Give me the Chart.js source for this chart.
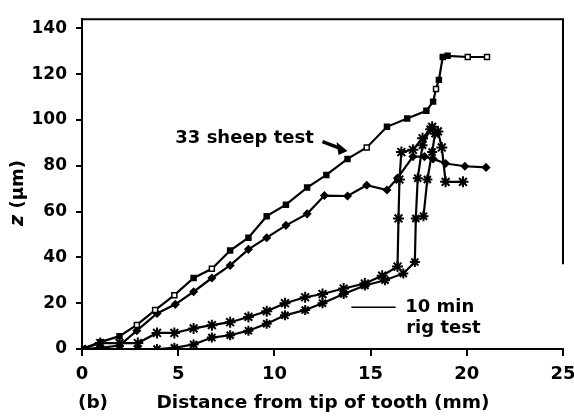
<!DOCTYPE html>
<html>
<head>
<meta charset="utf-8">
<script src="https://cdn.jsdelivr.net/npm/chart.js@4.4.1/dist/chart.umd.min.js"></script>
<style>
  html, body { margin: 0; padding: 0; background: #fff; }
  #wrap { width: 574px; height: 416px; }
</style>
</head>
<body>
<div id="wrap"><canvas id="myChart" width="574" height="416"></canvas></div>
<script>
'use strict'
// 33 sheep test, upper curve (squares)
var sheepAX = [0, 0.95, 1.95, 2.85, 3.8, 4.8, 5.8, 6.75, 7.7, 8.65, 9.6, 10.6, 11.7, 12.7, 13.8, 14.8, 15.85, 16.9, 17.9, 18.25, 18.4, 18.55, 18.75, 19.0, 20.05, 21.05];
var sheepAY = [0, 3, 5.6, 10.5, 17, 23.5, 31, 35, 43, 48.6, 58, 63, 70.5, 76, 83, 88, 97, 100.6, 104, 108, 113.5, 117.5, 127.5, 128, 127.5, 127.5];
// 33 sheep test, lower curve (diamonds)
var sheepBX = [0, 0.95, 1.95, 2.85, 3.9, 4.85, 5.8, 6.75, 7.7, 8.65, 9.6, 10.6, 11.7, 12.6, 13.8, 14.8, 15.85, 16.4, 17.2, 17.8, 18.25, 18.9, 19.9, 21.0];
var sheepBY = [0, 0.5, 1.5, 8, 15.5, 19.5, 25, 31, 36.5, 43.5, 48.6, 54, 59, 67, 66.8, 71.5, 69.4, 74.6, 84, 84, 83, 81, 79.8, 79.3];
// 10 min rig test, two runs (stars)
var rigCX = [0, 0.95, 1.95, 2.9, 3.9, 4.8, 5.8, 6.75, 7.7, 8.65, 9.6, 10.55, 11.6, 12.5, 13.6, 14.7, 15.6, 16.4, 16.45, 16.5, 16.6, 17.2, 17.7, 18.2, 18.5, 18.7, 18.9, 19.8];
var rigCY = [0, 2.6, 2.6, 2.6, 7, 7, 9, 10.4, 11.7, 14, 16.5, 20, 22.6, 24, 26.4, 28.6, 32, 36, 57, 74, 86, 87, 92, 97, 95, 88, 73, 73];
var rigDX = [0, 0.95, 1.95, 2.9, 3.9, 4.8, 5.8, 6.75, 7.7, 8.65, 9.6, 10.55, 11.6, 12.5, 13.6, 14.7, 15.75, 16.7, 17.3, 17.35, 17.45, 17.7, 18.1, 18.35, 18.2, 17.95, 17.75];
var rigDY = [0, 0, 0, 0, 0, 0.5, 2, 5, 6, 8, 11, 14.7, 17, 20, 24, 27.7, 30, 33, 38, 57, 74.6, 89, 96, 94, 86, 74, 58];
// ticks
var xTicks = [0, 5, 10, 15, 20, 25];
var yTicks = [0, 20, 40, 60, 80, 100, 120, 140];

var fontFam = "'DejaVu Sans', sans-serif";
var openA = [3, 4, 5, 7, 15, 20, 24, 25];

function pts(xs, ys) {
    var out = [];
    for (let i = 0; i < xs.length; i++) {
        out.push({ x: xs[i], y: ys[i] });
    }
    return out;
}

var annot = {
    id: 'annot',
    afterDraw: function(chart) {
        var ctx = chart.ctx;
        var a = chart.chartArea;
        var x = chart.scales.x;
        var y = chart.scales.y;
        ctx.save();
        ctx.strokeStyle = '#000';
        ctx.fillStyle = '#000';
        ctx.lineWidth = 2;
        // top frame and short right frame
        ctx.beginPath();
        ctx.moveTo(a.left, a.top);
        ctx.lineTo(a.right, a.top);
        ctx.lineTo(a.right, y.getPixelForValue(37));
        ctx.stroke();

        // 33 sheep test label + arrow
        ctx.font = 'bold 18px ' + fontFam;
        ctx.textBaseline = 'middle';
        ctx.textAlign = 'left';
        ctx.fillText('33 sheep test', x.getPixelForValue(4.85), y.getPixelForValue(92));
        var x1 = x.getPixelForValue(12.5), y1 = y.getPixelForValue(90.5);
        var x2 = x.getPixelForValue(13.8), y2 = y.getPixelForValue(86.5);
        ctx.lineWidth = 3.5;
        ctx.beginPath();
        ctx.moveTo(x1, y1);
        ctx.lineTo(x2 - 6, y2 - 2);
        ctx.stroke();
        ctx.beginPath();
        ctx.moveTo(x2, y2);
        ctx.lineTo(x2 - 11, y2 - 9);
        ctx.lineTo(x2 - 9, y2 + 4);
        ctx.closePath();
        ctx.fill();

        // 10 min rig test label
        ctx.lineWidth = 1.5;
        ctx.beginPath();
        ctx.moveTo(x.getPixelForValue(14.0), y.getPixelForValue(18.2));
        ctx.lineTo(x.getPixelForValue(16.3), y.getPixelForValue(18.2));
        ctx.stroke();
        ctx.font = 'bold 18px ' + fontFam;
        ctx.fillText('10 min', x.getPixelForValue(16.8), y.getPixelForValue(18.2));
        ctx.fillText('rig test', x.getPixelForValue(16.85), y.getPixelForValue(9.2));

        // axis titles
        ctx.font = 'bold 18.5px ' + fontFam;
        ctx.textAlign = 'center';
        ctx.fillText('Distance from tip of tooth (mm)', 323, 403);
        ctx.fillText('(b)', 93, 403);

        ctx.translate(18, 193);
        ctx.rotate(-Math.PI / 2);
        ctx.font = 'bold italic 19px ' + fontFam;
        var wz = ctx.measureText('z').width;
        ctx.font = 'bold 18px ' + fontFam;
        var wr = ctx.measureText(' (μm)').width;
        var start = -(wz + wr) / 2;
        ctx.textAlign = 'left';
        ctx.font = 'bold italic 19px ' + fontFam;
        ctx.fillText('z', start, 0);
        ctx.font = 'bold 18px ' + fontFam;
        ctx.fillText(' (μm)', start + wz, 0);
        ctx.restore();
    }
};

var ctx = document.getElementById('myChart').getContext('2d');

var chart = new Chart(ctx, {
    type: 'scatter',
    data: {
        datasets: [{
            label: '33 sheep test (upper)',
            data: pts(sheepAX, sheepAY),
            showLine: true,
            borderColor: '#000',
            borderWidth: 2.2,
            pointStyle: 'rect',
            pointRadius: 3.5,
            pointBorderWidth: 1.5,
            pointBorderColor: '#000',
            pointBackgroundColor: sheepAX.map(function(v, i) { return openA.includes(i) ? '#fff' : '#000'; })
        }, {
            label: '33 sheep test (lower)',
            data: pts(sheepBX, sheepBY),
            showLine: true,
            borderColor: '#000',
            borderWidth: 2.2,
            pointStyle: 'rectRot',
            pointRadius: 3,
            pointBorderColor: '#000',
            pointBackgroundColor: '#000'
        }, {
            label: '10 min rig test (1)',
            data: pts(rigCX, rigCY),
            showLine: true,
            borderColor: '#000',
            borderWidth: 2.2,
            pointStyle: 'star',
            pointRadius: 5.5,
            pointBorderWidth: 2,
            pointBorderColor: '#000',
            pointBackgroundColor: '#000'
        }, {
            label: '10 min rig test (2)',
            data: pts(rigDX, rigDY),
            showLine: true,
            borderColor: '#000',
            borderWidth: 2.2,
            pointStyle: 'star',
            pointRadius: 5,
            pointBorderWidth: 2,
            pointBorderColor: '#000',
            pointBackgroundColor: '#000'
        }]
    },
    options: {
        responsive: false,
        animation: false,
        layout: { padding: { top: 17, right: 0, left: 0, bottom: 0 } },
        plugins: { legend: { display: false }, tooltip: { enabled: false } },
        scales: {
            x: {
                type: 'linear',
                min: xTicks[0],
                max: xTicks[xTicks.length - 1],
                afterFit: function(s) { s.height = 67; s.paddingRight = 11; s.paddingLeft = 0; },
                ticks: {
                    stepSize: 5,
                    color: '#000',
                    padding: 8,
                    maxRotation: 0,
                    font: { family: fontFam, size: 18, weight: 'bold' }
                },
                grid: { drawOnChartArea: false, drawTicks: true, tickLength: 7, color: '#000', lineWidth: 2 },
                border: { display: true, color: '#000', width: 2 }
            },
            y: {
                min: 0,
                max: 144,
                afterFit: function(s) { s.width = 82; },
                afterBuildTicks: function(s) { s.ticks = yTicks.map(function(v) { return { value: v }; }); },
                ticks: {
                    stepSize: 20,
                    color: '#000',
                    padding: 9,
                    font: { family: fontFam, size: 17, weight: 'bold' }
                },
                grid: { drawOnChartArea: false, drawTicks: true, tickLength: 6, color: '#000', lineWidth: 2 },
                border: { display: true, color: '#000', width: 2 }
            }
        }
    },
    plugins: [annot]
});
</script>
</body>
</html>
